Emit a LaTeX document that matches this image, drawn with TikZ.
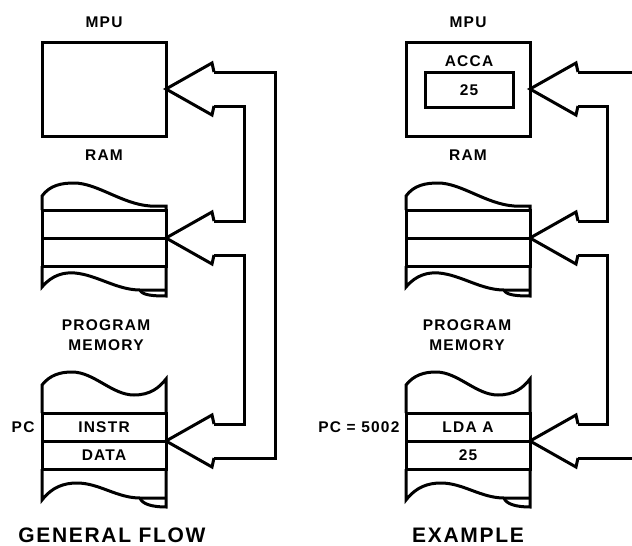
\documentclass[tikz,border=0pt]{standalone}
\usepackage{fontspec}
\newfontfamily\lblfont[LetterSpace=8]{Liberation Sans}
\usetikzlibrary{positioning,calc}
\tikzset{
  bus/.style = {line width=3pt},
  mpubox/.style = {rectangle, draw, line width=3pt, minimum width=124pt, minimum height=94pt, outer sep=0pt},
  regbox/.style = {rectangle, draw, line width=3pt, minimum width=88pt, minimum height=35pt, outer sep=0pt, inner sep=0pt, font=\lblfont\bfseries\fontsize{15.5}{18}\selectfont},
  cell/.style = {rectangle, draw, line width=3pt, minimum width=124pt, minimum height=28pt, outer sep=0pt, inner sep=0pt, font=\lblfont\bfseries\fontsize{15.5}{18}\selectfont},
  lbl/.style = {align=center, font=\lblfont\bfseries\fontsize{15.5}{19.5}\selectfont},
  ttl/.style = {font=\lblfont\bfseries\fontsize{21}{24}\selectfont},
}
% hollow arrow head at #1, inner corners named #2u / #2d
\newcommand{\bushead}[2]{\draw[bus] (#1) ++(48,-17) coordinate (#2u) -- ++(-2,-9) -- (#1) -- ++(46,26) -- ++(2,-9) coordinate (#2d);}
% torn edges of a memory stack
\newcommand{\ramshape}[2]{%
  \draw[bus, shift={(#1)}] (0,0) -- (0,-14) .. controls (8,-25) and (20,-27) .. (32,-27) .. controls (55,-27) and (80,-6) .. (108,-4) -- (124,-4) -- (124,0);
  \draw[bus, shift={(#2)}] (0,0) -- (0,21) .. controls (10,9) and (22,6) .. (33,7) .. controls (55,9) and (75,24) .. (98,24) -- (124,24);
  \draw[bus, shift={(#2)}] (98,24) .. controls (100,29) and (110,30) .. (124,30) -- (124,0);}
\newcommand{\progshape}[2]{%
  \draw[bus, shift={(#1)}] (0,0) -- (0,-28) .. controls (8,-38) and (18,-41) .. (30,-41) .. controls (52,-41) and (70,-18) .. (92,-18) .. controls (108,-18) and (117,-25) .. (124,-34) -- (124,0);
  \draw[bus, shift={(#2)}] (0,0) -- (0,31) .. controls (10,18) and (22,14) .. (35,14) .. controls (57,14) and (75,29) .. (98,29) -- (124,29);
  \draw[bus, shift={(#2)}] (98,29) .. controls (100,35) and (110,38) .. (124,38) -- (124,0);}

\begin{document}
\begin{tikzpicture}[x=1pt, y=-1pt]
\useasboundingbox (0,0) rectangle (632,546);
% general flow
\node[mpubox] (mpuL) at (104,89) {};
\node[lbl, above=11pt of mpuL] (mpuLlbl) {MPU};
\node[cell] (ramL1) at (104,224) {};
\node[cell, below=0pt of ramL1] (ramL2) {};
\node[lbl, below=10pt of mpuL] (ramLlbl) {RAM};
\ramshape{ramL1.north west}{ramL2.south west}
\node[lbl] (progLlbl) at (106,335) {PROGRAM\\MEMORY};
\node[cell] (progL1) at (104,427) {INSTR};
\node[cell, below=0pt of progL1] (progL2) {DATA};
\progshape{progL1.north west}{progL2.south west}
\node[lbl, left=4pt of progL1] (pcL) {PC};
\node[ttl, anchor=base] (ttlL) at (112,542) {GENERAL FLOW};
\bushead{mpuL.east}{aM}
\bushead{ramL1.south east}{aR}
\bushead{progL1.south east}{aP}
\coordinate (outerL) at (275,0);
\coordinate (innerL) at (244,0);
\draw[bus] (aMu) -| (outerL |- aPd) -- (aPd);
\draw[bus] (aMd) -| (innerL |- aRu) -- (aRu);
\draw[bus] (aRd) -| (innerL |- aPu) -- (aPu);
% example
\node[mpubox] (mpuR) at (468,89) {};
\node[lbl, above=11pt of mpuR] (mpuRlbl) {MPU};
\node[regbox] (accR) at (469,90) {25};
\node[lbl, above=2pt of accR] (accRlbl) {ACCA};
\node[cell] (ramR1) at (468,224) {};
\node[cell, below=0pt of ramR1] (ramR2) {};
\node[lbl, below=10pt of mpuR] (ramRlbl) {RAM};
\ramshape{ramR1.north west}{ramR2.south west}
\node[lbl] (progRlbl) at (467,335) {PROGRAM\\MEMORY};
\node[cell] (progR1) at (468,427) {LDA A};
\node[cell, below=0pt of progR1] (progR2) {25};
\progshape{progR1.north west}{progR2.south west}
\node[lbl, left=3pt of progR1] (pcR) {PC = 5002};
\node[ttl, anchor=base] (ttlR) at (468,542) {EXAMPLE};
\bushead{mpuR.east}{bM}
\bushead{ramR1.south east}{bR}
\bushead{progR1.south east}{bP}
\coordinate (innerR) at (607,0);
\coordinate (edgeR) at (640,0);
\draw[bus] (bMu) -- (edgeR |- bMu);
\draw[bus] (bPd) -- (edgeR |- bPd);
\draw[bus] (bMd) -| (innerR |- bRu) -- (bRu);
\draw[bus] (bRd) -| (innerR |- bPu) -- (bPu);
\end{tikzpicture}
\end{document}
